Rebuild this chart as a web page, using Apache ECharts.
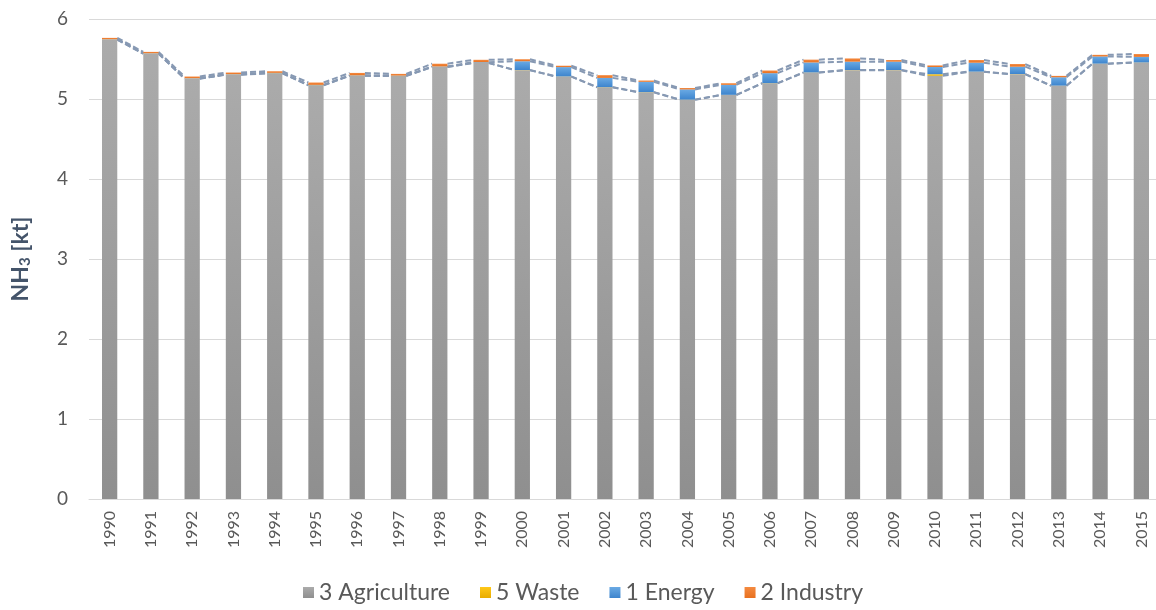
<!DOCTYPE html>
<html>
<head>
<meta charset="utf-8">
<script src="https://cdn.jsdelivr.net/npm/echarts@6/dist/echarts.min.js"></script>
<style>
  html, body { margin: 0; padding: 0; background: #fff; }
  #chart { width: 1156px; height: 610px; }
</style>
</head>
<body>
<div id="chart"></div>
<script>
const years = ['1990', '1991', '1992', '1993', '1994', '1995', '1996', '1997', '1998', '1999',
  '2000', '2001', '2002', '2003', '2004', '2005', '2006', '2007', '2008', '2009',
  '2010', '2011', '2012', '2013', '2014', '2015']
const agriculture = [5.741, 5.566, 5.254, 5.304, 5.321, 5.171, 5.29, 5.287, 5.40, 5.45,
  5.36, 5.28, 5.146, 5.084, 4.99, 5.05, 5.196, 5.33, 5.36, 5.36,
  5.29, 5.34, 5.31, 5.165, 5.44, 5.455]
const waste = [0.002, 0.002, 0.002, 0.002, 0.002, 0.002, 0.002, 0.002, 0.002, 0.002,
  0.002, 0.002, 0.002, 0.002, 0.002, 0.002, 0.002, 0.002, 0.002, 0.002,
  0.02, 0.002, 0.002, 0.002, 0.002, 0.002]
const energy = [0.004, 0.004, 0.004, 0.004, 0.004, 0.004, 0.004, 0.004, 0.005, 0.008,
  0.11, 0.117, 0.116, 0.129, 0.128, 0.125, 0.125, 0.125, 0.105, 0.105,
  0.09, 0.112, 0.092, 0.105, 0.09, 0.07]
const industry = [0.017, 0.017, 0.021, 0.021, 0.02, 0.029, 0.03, 0.021, 0.034, 0.03,
  0.025, 0.017, 0.034, 0.016, 0.017, 0.02, 0.033, 0.035, 0.04, 0.02,
  0.02, 0.033, 0.033, 0.017, 0.02, 0.035]
const yTicks = [0, 1, 2, 3, 4, 5, 6]

const BAR_RATIO = 0.37
const font = 'Lato, "Open Sans", sans-serif'

// tops of each stacked layer, for the excel-style series lines
const sum = (...arrs) => arrs[0].map((_, i) => arrs.reduce((s, a) => s + a[i], 0))
const layerTops = [
  agriculture,
  sum(agriculture, waste),
  sum(agriculture, waste, energy),
  sum(agriculture, waste, energy, industry),
]

function seriesLine(tops, idx) {
  const pts = []
  for (let i = 0; i < tops.length - 1; i++) pts.push([i, tops[i], tops[i + 1]])
  return {
    type: 'custom',
    name: 'line' + idx,
    silent: true,
    z: 1,
    data: pts,
    encode: { x: 0, y: [1, 2] },
    renderItem(params, api) {
      const i = api.value(0)
      const a = api.coord([i, api.value(1)])
      const b = api.coord([i + 1, api.value(2)])
      const half = api.size([1, 0])[0] * BAR_RATIO / 2
      return {
        type: 'line',
        shape: { x1: a[0] + half, y1: a[1], x2: b[0] - half, y2: b[1] },
        style: { stroke: '#8799b3', lineWidth: 2, lineDash: [6, 3], fill: null },
      }
    },
  }
}

const grad = (top, bottom) => new echarts.graphic.LinearGradient(0, 0, 0, 1, [
  { offset: 0, color: top },
  { offset: 1, color: bottom },
])

const chart = echarts.init(document.getElementById('chart'))
chart.setOption({
  animation: false,
  textStyle: { fontFamily: font },
  grid: { left: 89, right: -6, top: 19, bottom: 111, containLabel: false, outerBoundsMode: 'none' },
  legend: {
    data: ['3 Agriculture', '5 Waste', '1 Energy', '2 Industry'],
    bottom: 1,
    left: 298,
    itemWidth: 11,
    itemHeight: 11,
    itemGap: 30,
    icon: 'rect',
    textStyle: { color: '#595959', fontSize: 23, fontFamily: font },
  },
  xAxis: {
    type: 'category',
    data: years,
    axisTick: { show: false },
    axisLine: { lineStyle: { color: '#d9d9d9', width: 1 } },
    axisLabel: { rotate: 90, color: '#595959', fontSize: 16, margin: 12, fontFamily: font },
  },
  yAxis: {
    type: 'value',
    min: yTicks[0],
    max: yTicks[yTicks.length - 1],
    interval: 1,
    name: 'NH{sub|3} [kt]',
    nameLocation: 'middle',
    nameGap: 56,
    nameRotate: 90,
    nameTextStyle: {
      color: '#44546a', fontSize: 23, fontWeight: 'bold', fontFamily: font,
      rich: { sub: { fontSize: 15, fontWeight: 'bold', color: '#44546a', verticalAlign: 'bottom', padding: [10, 0, 0, 0] } },
    },
    axisLine: { show: false },
    axisTick: { show: false },
    splitLine: { lineStyle: { color: '#d9d9d9', width: 1 } },
    axisLabel: { color: '#595959', fontSize: 19, margin: 21, fontFamily: font },
  },
  series: [
    {
      name: '3 Agriculture', type: 'bar', stack: 'nh3', barWidth: (BAR_RATIO * 100) + '%',
      itemStyle: { color: grad('#ababab', '#8f8f8f') }, data: agriculture,
    },
    {
      name: '5 Waste', type: 'bar', stack: 'nh3',
      itemStyle: { color: grad('#ffc819', '#e8ac00') }, data: waste,
    },
    {
      name: '1 Energy', type: 'bar', stack: 'nh3',
      itemStyle: { color: grad('#6aaae4', '#3d84cd') }, data: energy,
    },
    {
      name: '2 Industry', type: 'bar', stack: 'nh3',
      itemStyle: { color: grad('#f48a40', '#e8701f') }, data: industry,
    },
    ...layerTops.map(seriesLine),
  ],
})
</script>
</body>
</html>
